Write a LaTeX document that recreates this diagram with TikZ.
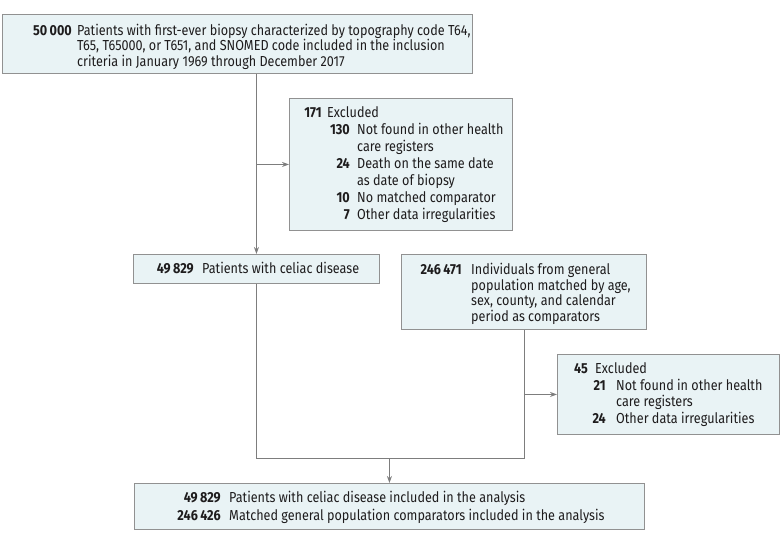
\documentclass[tikz,border=0pt]{standalone}
\usepackage{fontspec}
\setmainfont[FakeStretch=0.87]{Fira Sans}
\usetikzlibrary{arrows.meta}
\definecolor{boxfill}{RGB}{233,243,245}
\definecolor{boxline}{RGB}{145,145,145}
\definecolor{conn}{RGB}{125,125,125}
\definecolor{ink}{RGB}{30,28,29}
\newcommand{\txtlines}[1]{\begin{tabular}[t]{@{}l@{}}#1\end{tabular}}
\newcommand{\numlines}[1]{\begin{tabular}[t]{@{}r@{}}#1\end{tabular}}
\tikzset{
  box/.style={draw=boxline, fill=boxfill, line width=0.9pt, inner sep=0pt, anchor=north west},
  num/.style={anchor=base east, inner sep=0pt, text=ink, font=\fontsize{14.5}{#1}\selectfont\bfseries},
  num/.default=16,
  txt/.style={anchor=base west, inner sep=0pt, text=ink, font=\fontsize{14.5}{#1}\selectfont},
  txt/.default=16,
  link/.style={draw=conn, line width=0.9pt},
  arr/.style={link, -{Stealth[length=7pt,width=5pt]}},
}
\begin{document}
\begin{tikzpicture}[x=1pt,y=1pt]
\useasboundingbox (0,0) rectangle (780,-542);
% boxes
\node[box, minimum width=470pt, minimum height=59pt] (top) at (2,-14) {};
\node[box, minimum width=223pt, minimum height=132pt] (exa) at (289,-98) {};
\node[box, minimum width=246pt, minimum height=29pt] (cel) at (133,-254) {};
\node[box, minimum width=245pt, minimum height=75pt] (cmp) at (401,-254) {};
\node[box, minimum width=222pt, minimum height=80pt] (exb) at (557,-354) {};
\node[box, minimum width=510pt, minimum height=46pt] (fin) at (134,-483) {};
% top text
\node[num=14.5] (n0) at (72,-35) {50\,000};
\node[txt=14.5] (t0) at (77,-35) {\txtlines{Patients with first-ever biopsy characterized by topography code T64,\\ T65, T65000, or T651, and SNOMED code included in the inclusion\\ criteria in January 1969 through December 2017}};
% excluded 1
\node[num=17] (n1) at (322,-117.5) {171};
\node[txt=17] (t1) at (327,-117.5) {Excluded};
\node[num=17] (n1s) at (350,-134.5) {\numlines{130\\ \\ 24\\ \\ 10\\ 7}};
\node[txt=17] (t1s) at (357,-134.5) {\txtlines{Not found in other health\\ care registers\\ Death on the same date\\ as date of biopsy\\ No matched comparator\\ Other data irregularities}};
% celiac
\node[num] (n2) at (194,-273.5) {49\,829};
\node[txt] (t2) at (202,-273.5) {Patients with celiac disease};
% comparators
\node[num=15.3] (n3) at (462,-274.5) {246\,471};
\node[txt=15.3] (t3) at (471,-274.5) {\txtlines{Individuals from general\\ population matched by age,\\ sex, county, and calendar\\ period as comparators}};
% excluded 2
\node[num=16.5] (n4) at (588,-373.5) {45};
\node[txt=16.5] (t4) at (595,-373.5) {Excluded};
\node[num=16.5] (n4s) at (606,-390) {\numlines{21\\ \\ 24}};
\node[txt=16.5] (t4s) at (616,-390) {\txtlines{Not found in other health\\ care registers\\ Other data irregularities}};
% final
\node[num=18] (n5) at (221,-502.5) {\numlines{49\,829\\ 246\,426}};
\node[txt=18] (t5) at (229,-502.5) {\txtlines{Patients with celiac disease included in the analysis\\ Matched general population comparators included in the analysis}};
% connectors
\coordinate (ja) at (cel.south |- 0,-458);
\coordinate (jb) at (cmp.south |- ja);
\draw[arr] (cel.north |- top.south) -- (cel.north);
\draw[arr] (exa.west -| cel.north) -- (exa.west);
\draw[link] (cel.south) -- (ja) -- (jb) -- (cmp.south);
\draw[arr] (exb.west -| cmp.south) -- (exb.west);
\draw[arr] (fin.north |- ja) -- (fin.north);
\end{tikzpicture}
\end{document}
